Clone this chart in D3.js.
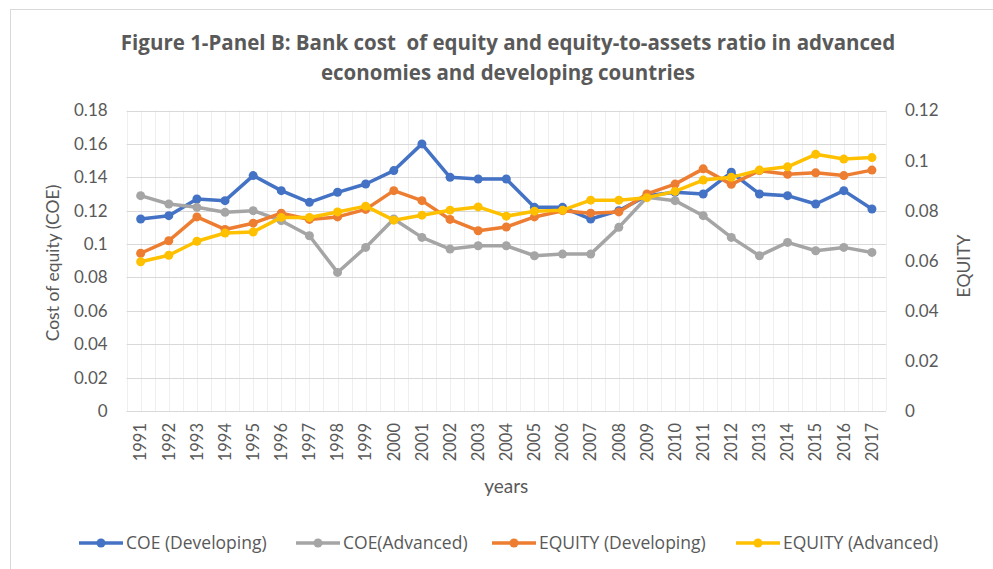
<!DOCTYPE html>
<html>
<head>
<meta charset="utf-8">
<script src="https://cdn.jsdelivr.net/npm/d3@7"></script>
<style>
  body { margin: 0; background: #fff; }
  svg { display: block; font-family: Lato, "Open Sans", sans-serif; }
</style>
</head>
<body>
<div id="chart"></div>
<script>
// DATA //////////////////////////////////////////////////////////
var years = [1991, 1992, 1993, 1994, 1995, 1996, 1997, 1998, 1999, 2000,
             2001, 2002, 2003, 2004, 2005, 2006, 2007, 2008, 2009, 2010,
             2011, 2012, 2013, 2014, 2015, 2016, 2017];

// left axis: cost of equity
var coeDeveloping = [0.115, 0.117, 0.127, 0.126, 0.141, 0.132, 0.125, 0.131, 0.136, 0.144,
                     0.160, 0.140, 0.139, 0.139, 0.122, 0.122, 0.115, 0.120, 0.129, 0.131,
                     0.130, 0.143, 0.130, 0.129, 0.124, 0.132, 0.121];
var coeAdvanced = [0.129, 0.124, 0.122, 0.119, 0.120, 0.114, 0.105, 0.083, 0.098, 0.115,
                   0.104, 0.097, 0.099, 0.099, 0.093, 0.094, 0.094, 0.110, 0.128, 0.126,
                   0.117, 0.104, 0.093, 0.101, 0.096, 0.098, 0.095];

// right axis: equity-to-assets
var equityDeveloping = [0.063, 0.068, 0.0775, 0.0725, 0.075, 0.079, 0.0765, 0.0775, 0.0805, 0.088,
                        0.084, 0.0765, 0.072, 0.0735, 0.0775, 0.080, 0.079, 0.0795, 0.0867, 0.0906,
                        0.0967, 0.0905, 0.096, 0.0945, 0.0951, 0.094, 0.0962];
var equityAdvanced = [0.0596, 0.0622, 0.0678, 0.0711, 0.0715, 0.0773, 0.0773, 0.0795, 0.0818, 0.0762,
                      0.0782, 0.0802, 0.0815, 0.0778, 0.0798, 0.0802, 0.0842, 0.0842, 0.0852, 0.0877,
                      0.0922, 0.0933, 0.0962, 0.0975, 0.1025, 0.1006, 0.1012];

var leftTicks = [0, 0.02, 0.04, 0.06, 0.08, 0.1, 0.12, 0.14, 0.16, 0.18];
var rightTicks = [0, 0.02, 0.04, 0.06, 0.08, 0.1, 0.12];

var seriesNames = ["COE (Developing)", "COE(Advanced)", "EQUITY (Developing)", "EQUITY (Advanced)"];
var seriesColors = ["#4472C4", "#A5A5A5", "#ED7D31", "#FFC000"];

var titleLines = ["Figure 1-Panel B: Bank cost  of equity and equity-to-assets ratio in advanced",
                  "economies and developing countries"];

// SETUP //////////////////////////////////////////////////////////
var width = 993, height = 569;
var plotLeft = 126.6, plotRight = 886, plotTop = 110.5, plotBottom = 411;
var textColor = "#595959";

var svg = d3.select("#chart").append("svg")
  .attr("width", width).attr("height", height);

// outer frame
svg.append("rect")
  .attr("x", 10.5).attr("y", 9.5).attr("width", 1000).attr("height", 600)
  .attr("fill", "none").attr("stroke", "#d9d9d9");

var x = d3.scaleBand().domain(years).range([plotLeft, plotRight]).padding(0);
var yLeft = d3.scaleLinear().domain([0, 0.18]).range([plotBottom, plotTop]);
var yRight = d3.scaleLinear().domain([0, 0.12]).range([plotBottom, plotTop]);
var half = x.bandwidth() / 2;

// GRID ///////////////////////////////////////////////////////////
var vLines = [];
years.forEach(function(y){ vLines.push(x(y)); vLines.push(x(y) + half); });
vLines.push(plotRight);

svg.append("g").attr("class", "vgrid")
  .selectAll("line").data(vLines)
  .enter().append("line")
  .attr("x1", function(d){ return Math.round(d) + 0.5; })
  .attr("x2", function(d){ return Math.round(d) + 0.5; })
  .attr("y1", plotTop).attr("y2", plotBottom)
  .attr("stroke", "#efefef");

svg.append("g").attr("class", "hgrid")
  .selectAll("line").data(leftTicks)
  .enter().append("line")
  .attr("x1", plotLeft).attr("x2", plotRight)
  .attr("y1", function(d){ return Math.round(yLeft(d)) + 0.5; })
  .attr("y2", function(d){ return Math.round(yLeft(d)) + 0.5; })
  .attr("stroke", "#d9d9d9");

// AXES ///////////////////////////////////////////////////////////
var fmt = function(d){ return String(+d.toFixed(2)); };

var leftAxis = svg.append("g")
  .attr("transform", "translate(" + plotLeft + ",0)")
  .call(d3.axisLeft(yLeft).tickValues(leftTicks).tickFormat(fmt).tickSize(0).tickPadding(19));

var rightAxis = svg.append("g")
  .attr("transform", "translate(" + plotRight + ",0)")
  .call(d3.axisRight(yRight).tickValues(rightTicks).tickFormat(fmt).tickSize(0).tickPadding(19));

var bottomAxis = svg.append("g")
  .attr("transform", "translate(0," + plotBottom + ")")
  .call(d3.axisBottom(x).tickSize(0));

[leftAxis, rightAxis, bottomAxis].forEach(function(a){
  a.select(".domain").remove();
  a.selectAll("text").attr("fill", textColor).style("font-size", "17px").style("font-family", "Lato, sans-serif");
});

bottomAxis.selectAll("text")
  .attr("transform", "rotate(-90)")
  .attr("text-anchor", "end")
  .attr("x", -12).attr("y", 0).attr("dy", "0.35em")
  .style("font-size", "16.5px");

// axis titles
svg.append("text")
  .attr("transform", "translate(53,263) rotate(-90)")
  .attr("text-anchor", "middle").attr("dy", "0.35em")
  .attr("fill", textColor).style("font-size", "17.5px")
  .text("Cost of equity (COE)");

svg.append("text")
  .attr("transform", "translate(964,266) rotate(-90)")
  .attr("text-anchor", "middle").attr("dy", "0.35em")
  .attr("fill", textColor).style("font-size", "17.5px")
  .text("EQUITY");

svg.append("text")
  .attr("x", (plotLeft + plotRight) / 2).attr("y", 486)
  .attr("text-anchor", "middle").attr("dy", "0.35em")
  .attr("fill", textColor).style("font-size", "19px")
  .text("years");

// TITLE //////////////////////////////////////////////////////////
svg.append("g").selectAll("text").data(titleLines)
  .enter().append("text")
  .attr("x", 508).attr("y", function(d, i){ return 43 + i * 30; })
  .attr("dy", "0.35em")
  .attr("text-anchor", "middle")
  .attr("fill", textColor)
  .style("font-family", "'Open Sans', sans-serif")
  .style("font-size", "20.5px").style("font-weight", "bold")
  .style("white-space", "pre")
  .text(function(d){ return d; });

// SERIES /////////////////////////////////////////////////////////
var series = [
  { values: coeDeveloping, scale: yLeft },
  { values: coeAdvanced, scale: yLeft },
  { values: equityDeveloping, scale: yRight },
  { values: equityAdvanced, scale: yRight }
];

series.forEach(function(s, si){
  var pts = s.values.map(function(v, i){ return [x(years[i]) + half, s.scale(v)]; });
  var g = svg.append("g").attr("class", "series-" + si);
  g.append("path")
    .attr("d", d3.line()(pts))
    .attr("fill", "none")
    .attr("stroke", seriesColors[si])
    .attr("stroke-width", 3.5)
    .attr("stroke-linejoin", "round")
    .attr("stroke-linecap", "round");
  g.selectAll("circle").data(pts)
    .enter().append("circle")
    .attr("cx", function(d){ return d[0]; })
    .attr("cy", function(d){ return d[1]; })
    .attr("r", 4.5)
    .attr("fill", seriesColors[si]);
});

// LEGEND /////////////////////////////////////////////////////////
var legendX = [79, 296, 492, 736];
var legend = svg.append("g").attr("class", "legend")
  .selectAll("g").data(seriesNames)
  .enter().append("g")
  .attr("transform", function(d, i){ return "translate(" + legendX[i] + ",543)"; });

legend.append("line")
  .attr("x1", 0).attr("x2", 44).attr("y1", 0).attr("y2", 0)
  .attr("stroke", function(d, i){ return seriesColors[i]; })
  .attr("stroke-width", 3.5);
legend.append("circle")
  .attr("cx", 22).attr("cy", 0).attr("r", 4.5)
  .attr("fill", function(d, i){ return seriesColors[i]; });
legend.append("text")
  .attr("x", 47).attr("dy", "0.35em")
  .attr("fill", textColor)
  .style("font-family", "'Open Sans', sans-serif")
  .style("font-size", "17.5px")
  .text(function(d){ return d; });
</script>
</body>
</html>
